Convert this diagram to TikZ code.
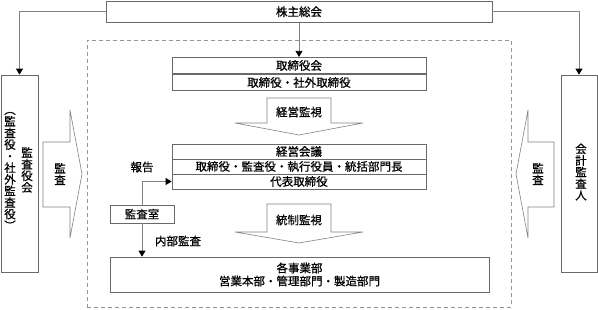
\documentclass[tikz,border=0pt]{standalone}
\usepackage{fontspec}
\setmainfont{Noto Sans CJK JP}[FakeBold=0.8]
\usepackage{xcolor}
\usepackage{tikz}
\usetikzlibrary{arrows.meta, positioning, calc}
\definecolor{framegray}{RGB}{105, 105, 105}
\definecolor{linegray}{RGB}{130, 130, 130}
\definecolor{dashgray}{RGB}{150, 150, 150}

\begin{document}
\begin{tikzpicture}[x=1pt, y=-1pt,
    every node/.style={font=\fontsize{11.5}{12}\selectfont},
    box/.style={rectangle, draw=framegray, fill=white, line width=0.7pt,
                inner sep=0pt, align=center},
    row/.style={box, minimum width=254pt, minimum height=16.5pt},
    vtext/.style={inner sep=0pt, align=center, font=\fontsize{11.5}{11.6}\selectfont},
    conn/.style={draw=linegray, line width=0.7pt, -{Triangle[length=6pt, width=7pt, black]}},
    bigarrow/.style={draw=linegray, line width=0.6pt, fill=white},
    frame/.style={rectangle, draw=dashgray, line width=0.7pt, dash pattern=on 4pt off 3pt}
]
\useasboundingbox (0,0) rectangle (598,309);

%% outer boxes
\node[box, minimum width=386pt, minimum height=21.5pt] (gm) at (299,11.75) {株主総会};
\node[box, minimum width=37pt, minimum height=197pt] (kansa) at (19.5,173.5) {};
\node[box, minimum width=36pt, minimum height=197pt] (kaikei) at (579,173.5) {};

\node[vtext] (kansaT) at (27,170) {監\\査\\役\\会};
\node[vtext] (kansaS) at (10,171) {︵\\監\\査\\役\\・\\社\\外\\監\\査\\役\\︶};
\node[vtext] (kaikeiT) at (581,172) {会\\計\\監\\査\\人};

%% dashed frame
\node[frame, minimum width=424pt, minimum height=267pt] (inner) at (299,173.5) {};

%% board
\node[row] (tb1) at (299,65.5) {取締役会};
\node[row] (tb2) at (299,82.5) {取締役・社外取締役};

%% management meeting
\node[row, minimum height=15pt] (kg1) at (299,151.5) {経営会議};
\node[row, minimum height=15pt] (kg2) at (299,166.5) {取締役・監査役・執行役員・統括部門長};
\node[row, minimum height=15pt] (kg3) at (299,181.5) {代表取締役};

\node[box, minimum width=64pt, minimum height=18pt] (audit) at (142,214) {監査室};
\node[box, minimum width=379pt, minimum height=35pt] (jigyo) at (299.5,274.5)
    {各事業部\\[1pt]営業本部・管理部門・製造部門};

%% block arrows
\draw[bigarrow] (267,123) -- (267,98) -- (331,98) -- (331,123) -- (363,123)
    -- (299,135) -- (235,123) -- cycle;
\node (keiei) at (299,112) {経営監視};
\draw[bigarrow] (267,232) -- (267,204) -- (331,204) -- (331,232) -- (363,232)
    -- (299,243) -- (235,232) -- cycle;
\node (tosei) at (299,220) {統制監視};

\draw[bigarrow] (70,142) -- (43,142) -- (43,207) -- (70,207) -- (70,238)
    -- (82,174) -- (70,110) -- cycle;
\node[vtext] (kansaL) at (60,174) {監\\査};
\draw[bigarrow] (528,142) -- (554,142) -- (554,207) -- (528,207) -- (528,238)
    -- (516,174) -- (528,110) -- cycle;
\node[vtext] (kansaR) at (538,174) {監\\査};

%% connectors
\draw[conn] (gm.west) -| (kansa.north);
\draw[conn] (gm.east) -| (kaikei.north);
\draw[conn] (gm.south) -- (tb1.north);
\draw[conn] (audit.north) |- (kg3.west);
\draw[conn] (audit.south) -- (audit.south |- jigyo.north);

\node (hokoku) at (142,167) {報告};
\node (naibu) at (178,241) {内部監査};

\end{tikzpicture}
\end{document}
